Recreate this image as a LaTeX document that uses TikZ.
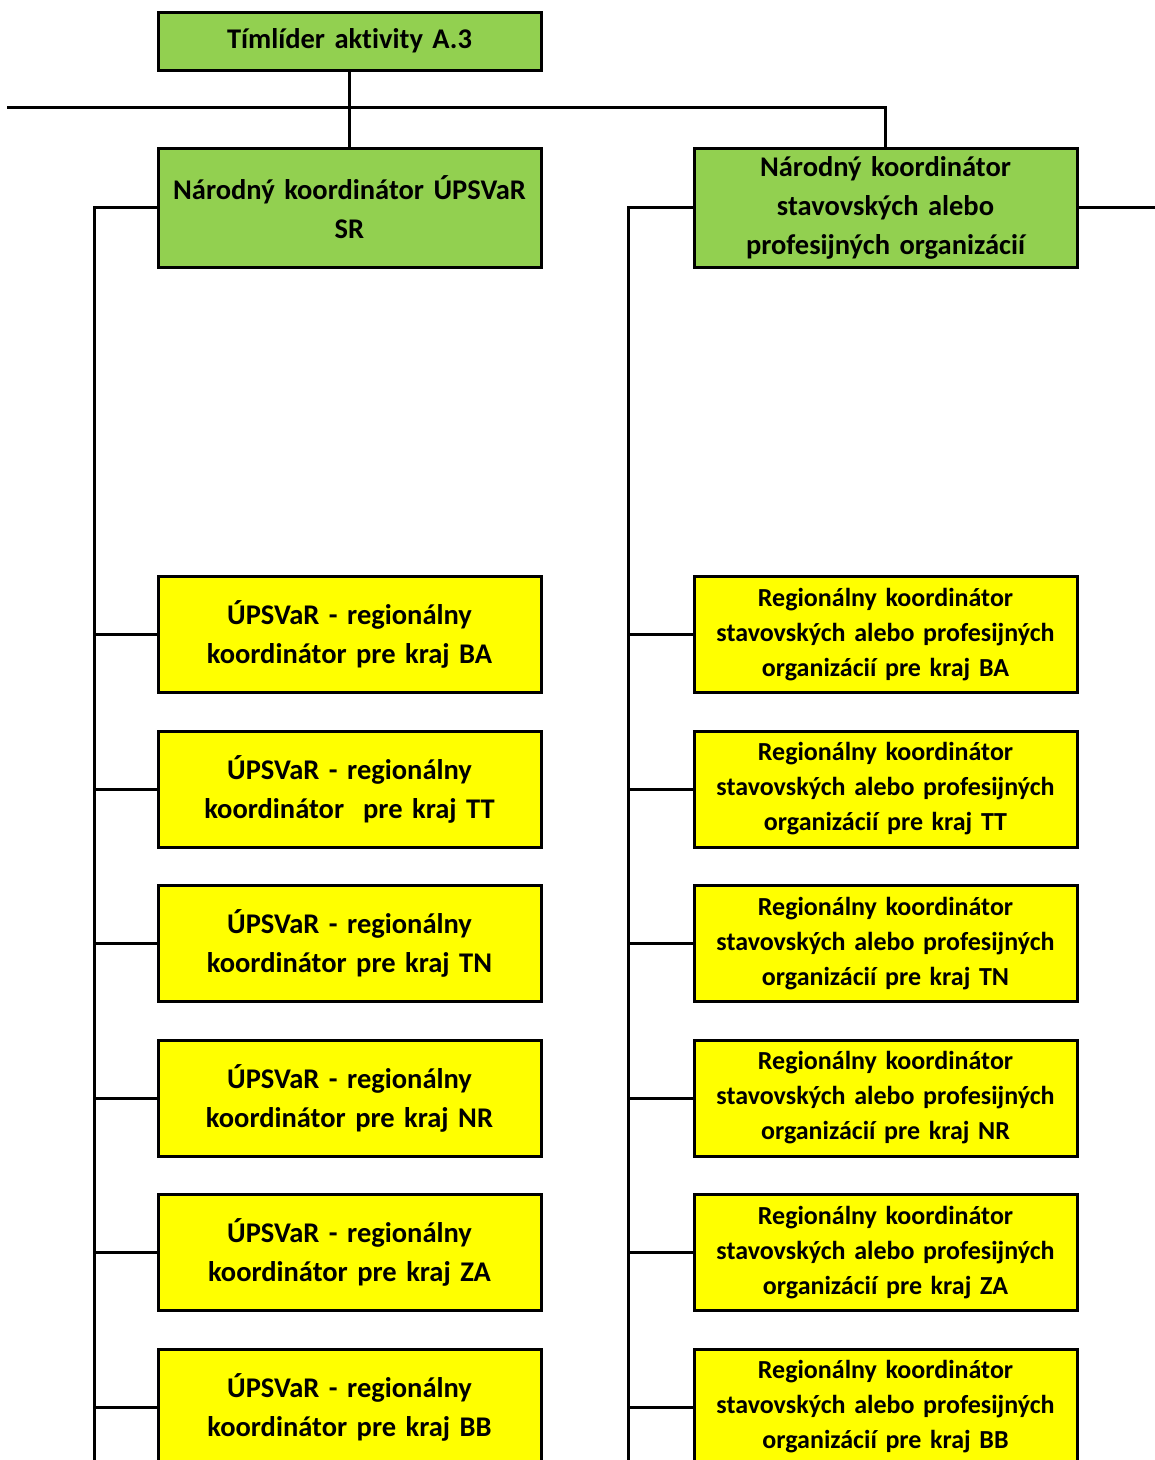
\documentclass[tikz,border=0pt]{standalone}
\usepackage{fontspec}
\setmainfont{Carlito}[WordSpace=0.85,Ligatures=NoCommon]
\usepackage{tikz}
\usetikzlibrary{calc,positioning,shapes}
\definecolor{leadgreen}{HTML}{92D050}
\definecolor{regyellow}{HTML}{FFFF00}
\tikzstyle{box}=[draw=black,line width=3pt,align=center,inner sep=0pt,
  minimum width=383pt,text width=375pt,font=\bfseries]
\tikzstyle{link}=[line width=3pt]
\begin{document}
\begin{tikzpicture}[x=1pt,y=-1pt,
    leadbox/.style={box,fill=leadgreen,font=\bfseries\fontsize{28.5}{39}\selectfont},
    regleft/.style={box,fill=regyellow,minimum height=116pt,
      font=\bfseries\fontsize{28.5}{39}\selectfont},
    regright/.style={box,fill=regyellow,minimum height=116pt,
      font=\bfseries\fontsize{26}{35}\selectfont}
    ]
    \path[use as bounding box,clip] (0,0) rectangle (1155,1460);

    % leaders
    \node [leadbox,minimum height=58pt] (lead) at (349.5,41) {T\'{\i}ml\'{\i}der aktivity A.3};
    \node [leadbox,minimum height=119pt] (natL) at (349.5,207.5)
      {N\'arodn\'y koordin\'ator \'UPSVaR\\SR};
    \node [leadbox,minimum height=119pt] (natR) at (885.5,207.5)
      {N\'arodn\'y koordin\'ator\\stavovsk\'ych alebo\\profesijn\'ych organiz\'aci\'{\i}};

    \coordinate (busL) at (7,107);
    \coordinate (busR) at (1155,207.5);
    \coordinate (spineL) at (94,1460);
    \coordinate (spineR) at (628,1460);

    \draw [link] (lead.south) -- (natL.north);
    \draw [link] (busL) -| (natR.north);
    \draw [link] (natR.east) -- (busR);
    \draw [link] (natL.west) -| (spineL);
    \draw [link] (natR.west) -| (spineR);

    % regional coordinators
    \foreach \i/\kraj/\second in {1/BA/{koordin\'ator pre kraj BA},
        2/TT/{koordin\'ator\ \ pre kraj TT},3/TN/{koordin\'ator pre kraj TN},
        4/NR/{koordin\'ator pre kraj NR},5/ZA/{koordin\'ator pre kraj ZA},
        6/BB/{koordin\'ator pre kraj BB}} {
      \pgfmathsetmacro{\ypos}{480+154.5*\i}
      \node [regleft] (regL\kraj) at (349.5,\ypos)
        {\'UPSVaR - region\'alny\\\second};
      \node [regright] (regR\kraj) at (885.5,\ypos)
        {Region\'alny koordin\'ator\\stavovsk\'ych alebo profesijn\'ych\\
          organiz\'aci\'{\i} pre kraj \kraj};
      \draw [link] (spineL |- regL\kraj.west) -- (regL\kraj.west);
      \draw [link] (spineR |- regR\kraj.west) -- (regR\kraj.west);
    }
  \end{tikzpicture}
\end{document}
